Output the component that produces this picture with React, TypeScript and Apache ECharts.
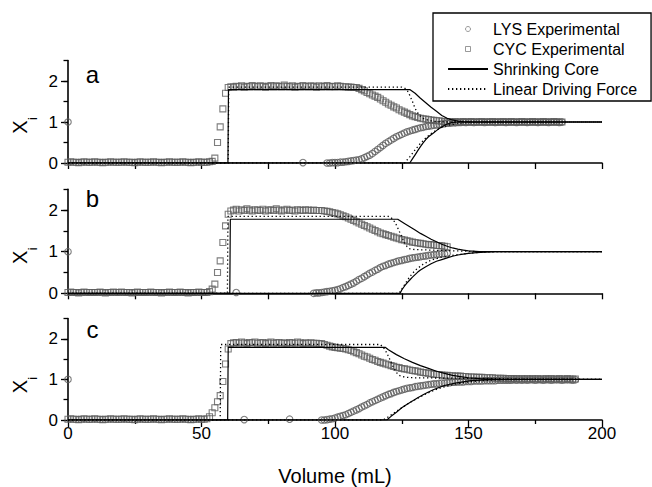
import React, { useEffect, useRef } from "react";
import * as echarts from "echarts";

const _ = null;

// Volume grid (mL) for the experimental readings
const volume = [
  0, 1, 2, 3, 4, 5, 6, 7, 8, 9, 10, 11, 12, 13, 14, 15, 16, 17, 18, 19,
  20, 21, 22, 23, 24, 25, 26, 27, 28, 29, 30, 31, 32, 33, 34, 35, 36, 37, 38, 39,
  40, 41, 42, 43, 44, 45, 46, 47, 48, 49, 50, 51, 52, 53, 54, 55, 56, 57, 58, 59,
  60, 61, 62, 63, 64, 65, 66, 67, 68, 69, 70, 71, 72, 73, 74, 75, 76, 77, 78, 79,
  80, 81, 82, 83, 84, 85, 86, 87, 88, 89, 90, 91, 92, 93, 94, 95, 96, 97, 98, 99,
  100, 101, 102, 103, 104, 105, 106, 107, 108, 109, 110, 111, 112, 113, 114, 115, 116, 117, 118, 119,
  120, 121, 122, 123, 124, 125, 126, 127, 128, 129, 130, 131, 132, 133, 134, 135, 136, 137, 138, 139,
  140, 141, 142, 143, 144, 145, 146, 147, 148, 149, 150, 151, 152, 153, 154, 155, 156, 157, 158, 159,
  160, 161, 162, 163, 164, 165, 166, 167, 168, 169, 170, 171, 172, 173, 174, 175, 176, 177, 178, 179,
  180, 181, 182, 183, 184, 185, 186, 187, 188, 189, 190,
];

// ---- Panel a ----
const cycA = [
  0.02, 0.03, 0.02, 0.02, 0.01, 0.02, 0.03, 0.02, 0.02, 0.02,
  0.03, 0.02, 0.02, 0.01, 0.02, 0.02, 0.03, 0.02, 0.02, 0.02,
  0.02, 0.03, 0.02, 0.02, 0.02, 0.01, 0.02, 0.03, 0.02, 0.02,
  0.02, 0.02, 0.03, 0.02, 0.02, 0.01, 0.02, 0.02, 0.03, 0.02,
  0.02, 0.02, 0.02, 0.03, 0.02, 0.02, 0.01, 0.02, 0.02, 0.03,
  0.02, 0.02, 0.02, 0.03, 0.04, 0.12, 0.5, 0.88, 1.32, 1.7,
  1.84, 1.86, 1.85, 1.87, 1.86, 1.88, 1.85, 1.87, 1.86, 1.89,
  1.87, 1.86, 1.88, 1.87, 1.85, 1.87, 1.89, 1.86, 1.88, 1.87,
  1.86, 1.9, 1.87, 1.86, 1.88, 1.85, 1.87, 1.86, 1.89, 1.87,
  1.86, 1.88, 1.87, 1.85, 1.88, 1.86, 1.87, 1.89, 1.86, 1.87,
  1.86, 1.88, 1.87, 1.86, 1.86, 1.85, 1.85, 1.84, 1.84, 1.82,
  1.79, 1.76, 1.72, 1.69, 1.66, 1.63, 1.6, 1.56, 1.52, 1.48,
  1.44, 1.41, 1.37, 1.34, 1.3, 1.27, 1.24, 1.21, 1.18, 1.15,
  1.13, 1.11, 1.09, 1.08, 1.07, 1.06, 1.05, 1.04, 1.03, 1.03,
  1.02, 1.01, 1.01, 1.01, 1.0, 1.01, 1.0, 1.0, 1.01, 1.0,
  1.0, 1.01, 1.0, 1.0, 1.0, 1.01, 1.0, 1.0, 1.0, 1.01,
  1.0, 1.0, 1.0, 1.01, 1.0, 1.0, 1.01, 1.0, 1.0, 1.0,
  1.01, 1.0, 1.0, 1.0, 1.01, 1.0, 1.0, 1.0, 1.01, 1.0,
  1.0, 1.0, 1.01, 1.0, 1.0, 1.0,
];
const lysA = [
  1.0, _, _, _, _, _, _, _, _, _,
  _, _, _, _, _, _, _, _, _, _,
  _, _, _, _, _, _, _, _, _, _,
  _, _, _, _, _, _, _, _, _, _,
  _, _, _, _, _, _, _, _, _, _,
  _, _, _, _, _, _, _, _, _, _,
  _, _, _, _, _, _, _, _, _, _,
  _, _, _, _, _, _, _, _, _, _,
  _, _, _, _, _, _, _, _, 0.01, _,
  _, _, _, _, _, _, _, 0.0, 0.0, 0.01,
  0.01, 0.01, 0.02, 0.02, 0.03, 0.04, 0.05, 0.06, 0.07, 0.08,
  0.1, 0.13, 0.16, 0.19, 0.23, 0.28, 0.33, 0.38, 0.43, 0.48,
  0.52, 0.56, 0.6, 0.64, 0.67, 0.7, 0.73, 0.76, 0.78, 0.8,
  0.82, 0.84, 0.86, 0.87, 0.89, 0.9, 0.91, 0.92, 0.93, 0.94,
  0.95, 0.96, 0.97, 0.97, 0.98, 0.98, 0.99, 0.99, 1.0, 0.99,
  1.0, 1.0, 0.99, 1.0, 1.0, 1.0, 0.99, 1.0, 1.0, 1.0,
  0.99, 1.0, 1.0, 1.0, 0.99, 1.0, 1.0, 1.0, 0.99, 1.0,
  1.0, 1.0, 0.99, 1.0, 1.0, 1.0, 0.99, 1.0, 1.0, 1.0,
  0.99, 1.0, 1.0, 1.0, 0.99, 1.0,
];
const scAUp = [[0, 0], [59.9, 0], [60.1, 1.79], [128, 1.79], [130, 1.7], [132, 1.58], [134, 1.47], [136, 1.36], [138, 1.26], [140, 1.16], [142, 1.09], [144, 1.05], [146, 1.02], [148, 1.01], [152, 1], [200, 1]];
const scALow = [[0, 0], [128, 0], [129, 0.1], [130, 0.2], [131, 0.3], [132, 0.4], [133, 0.49], [134, 0.57], [135, 0.64], [136, 0.69], [137, 0.74], [138, 0.79], [139, 0.84], [140, 0.88], [141, 0.92], [142, 0.95], [143, 0.97], [144, 0.99], [146, 1], [200, 1]];
const ldfAUp = [[0, 0], [60, 0], [60.2, 1.85], [125, 1.85], [126, 1.83], [127, 1.78], [128, 1.65], [129, 1.5], [130, 1.33], [131, 1.22], [132, 1.14], [133, 1.09], [134, 1.06], [136, 1.03], [138, 1.01], [142, 1], [200, 1]];
const ldfALow = [[0, 0], [126, 0], [128, 0.15], [130, 0.32], [132, 0.48], [134, 0.61], [136, 0.72], [138, 0.8], [140, 0.87], [143, 0.93], [146, 0.97], [150, 0.99], [155, 1], [200, 1]];

// ---- Panel b ----
const cycB = [
  0.02, 0.03, 0.02, 0.02, 0.01, 0.02, 0.03, 0.02, 0.02, 0.02,
  0.02, 0.02, 0.03, 0.02, 0.01, 0.02, 0.02, 0.03, 0.02, 0.02,
  0.03, 0.02, 0.02, 0.02, 0.01, 0.02, 0.03, 0.02, 0.02, 0.02,
  0.02, 0.03, 0.02, 0.02, 0.02, 0.01, 0.02, 0.02, 0.03, 0.02,
  0.02, 0.02, 0.03, 0.02, 0.02, 0.01, 0.02, 0.02, 0.02, 0.03,
  0.02, 0.02, 0.02, 0.04, 0.1, 0.22, 0.5, 0.78, 1.22, 1.62,
  1.9, 1.98, 2.0, 2.02, 1.98, 2.01, 1.99, 2.03, 2.0, 1.98,
  2.01, 2.0, 1.99, 2.02, 1.98, 2.0, 2.01, 1.99, 2.03, 2.0,
  1.98, 2.0, 2.02, 1.99, 2.0, 1.98, 2.01, 2.0, 1.99, 2.01,
  2.0, 1.99, 2.0, 1.99, 1.99, 1.99, 1.98, 1.97, 1.96, 1.94,
  1.93, 1.91, 1.89, 1.86, 1.84, 1.81, 1.78, 1.75, 1.72, 1.69,
  1.66, 1.63, 1.6, 1.57, 1.54, 1.51, 1.48, 1.45, 1.43, 1.41,
  1.39, 1.37, 1.35, 1.33, 1.31, 1.29, 1.28, 1.26, 1.25, 1.23,
  1.22, 1.21, 1.2, 1.19, 1.18, 1.17, 1.17, 1.16, 1.15, 1.15,
  1.14, 1.13, 1.12,
];
const lysB = [
  1.0, _, _, _, _, _, _, _, _, _,
  _, _, _, _, _, _, _, _, _, _,
  _, _, _, _, _, _, _, _, _, _,
  _, _, _, _, _, _, _, _, _, _,
  _, _, _, _, _, _, _, _, _, _,
  _, _, _, _, _, _, _, _, _, _,
  _, _, _, 0.02, _, _, _, _, _, _,
  _, _, _, _, _, _, _, _, _, _,
  _, _, _, _, _, _, _, _, _, _,
  _, _, 0.0, 0.01, 0.01, 0.02, 0.03, 0.04, 0.05, 0.06,
  0.07, 0.09, 0.11, 0.14, 0.16, 0.19, 0.22, 0.25, 0.29, 0.33,
  0.36, 0.4, 0.44, 0.48, 0.51, 0.55, 0.58, 0.62, 0.65, 0.67,
  0.7, 0.72, 0.74, 0.76, 0.78, 0.79, 0.81, 0.82, 0.84, 0.85,
  0.86, 0.87, 0.88, 0.89, 0.9, 0.91, 0.92, 0.93, 0.93, 0.94,
  0.95, 0.95, 0.96,
];
const scBUp = [[0, 0], [60.6, 0], [60.8, 1.78], [123.5, 1.78], [126, 1.68], [128, 1.6], [130, 1.52], [132, 1.44], [134, 1.37], [136, 1.3], [138, 1.24], [140, 1.18], [142, 1.13], [144, 1.09], [146, 1.06], [148, 1.04], [150, 1.02], [154, 1], [200, 1]];
const scBLow = [[0, 0], [124.4, 0], [125, 0.08], [126, 0.17], [127, 0.25], [128, 0.32], [129, 0.39], [130, 0.45], [131, 0.51], [132, 0.56], [134, 0.64], [136, 0.71], [138, 0.77], [140, 0.81], [142, 0.85], [144, 0.89], [146, 0.92], [148, 0.94], [150, 0.96], [153, 0.98], [156, 0.99], [160, 1], [200, 1]];
const ldfBUp = [[0, 0], [59.7, 0], [59.9, 1.85], [120, 1.85], [121, 1.82], [122, 1.75], [123, 1.64], [124, 1.5], [125, 1.36], [126, 1.22], [127, 1.12], [128, 1.07], [130, 1.05], [135, 1.04], [145, 1.02], [155, 1], [200, 1]];
const ldfBLow = [[0, 0], [124, 0], [126, 0.2], [128, 0.4], [130, 0.55], [133, 0.7], [136, 0.8], [140, 0.87], [145, 0.92], [150, 0.96], [155, 0.99], [160, 1], [200, 1]];

// ---- Panel c ----
const cycC = [
  0.02, 0.03, 0.02, 0.02, 0.01, 0.02, 0.03, 0.02, 0.02, 0.02,
  0.03, 0.02, 0.02, 0.01, 0.02, 0.02, 0.03, 0.02, 0.02, 0.02,
  0.02, 0.03, 0.02, 0.02, 0.02, 0.01, 0.02, 0.03, 0.02, 0.02,
  0.02, 0.02, 0.03, 0.02, 0.02, 0.01, 0.02, 0.02, 0.03, 0.02,
  0.02, 0.02, 0.02, 0.03, 0.02, 0.02, 0.01, 0.02, 0.02, 0.03,
  0.02, 0.02, 0.03, 0.08, 0.18, 0.3, 0.45, 0.6, 0.95, 1.38,
  1.75, 1.88, 1.9, 1.91, 1.89, 1.92, 1.9, 1.88, 1.91, 1.9,
  1.92, 1.89, 1.9, 1.91, 1.88, 1.9, 1.92, 1.89, 1.9, 1.91,
  1.89, 1.9, 1.88, 1.91, 1.9, 1.89, 1.92, 1.9, 1.88, 1.9,
  1.89, 1.9, 1.89, 1.89, 1.88, 1.88, 1.86, 1.84, 1.82, 1.8,
  1.79, 1.78, 1.77, 1.76, 1.75, 1.73, 1.71, 1.68, 1.66, 1.63,
  1.6, 1.57, 1.55, 1.52, 1.49, 1.47, 1.44, 1.42, 1.4, 1.38,
  1.36, 1.34, 1.32, 1.3, 1.29, 1.27, 1.26, 1.25, 1.23, 1.22,
  1.21, 1.2, 1.18, 1.17, 1.16, 1.15, 1.14, 1.13, 1.12, 1.12,
  1.11, 1.1, 1.1, 1.09, 1.09, 1.08, 1.08, 1.08, 1.07, 1.07,
  1.06, 1.06, 1.06, 1.05, 1.05, 1.05, 1.04, 1.04, 1.04, 1.04,
  1.03, 1.03, 1.03, 1.03, 1.02, 1.02, 1.02, 1.02, 1.02, 1.01,
  1.02, 1.01, 1.02, 1.01, 1.02, 1.01, 1.02, 1.01, 1.01, 1.02,
  1.01, 1.02, 1.01, 1.01, 1.02, 1.01, 1.01, 1.02, 1.01, 1.01,
  1.01,
];
const lysC = [
  1.0, _, _, _, _, _, _, _, _, _,
  _, _, _, _, _, _, _, _, _, _,
  _, _, _, _, _, _, _, _, _, _,
  _, _, _, _, _, _, _, _, _, _,
  _, _, _, _, _, _, _, _, _, _,
  _, _, _, _, _, _, _, _, _, _,
  _, _, _, _, _, _, 0.01, _, _, _,
  _, _, _, _, _, _, _, _, _, _,
  _, _, _, 0.02, _, _, _, _, _, _,
  _, _, _, _, _, 0.0, 0.0, 0.01, 0.02, 0.03,
  0.05, 0.07, 0.09, 0.11, 0.13, 0.16, 0.19, 0.22, 0.25, 0.28,
  0.32, 0.35, 0.38, 0.42, 0.45, 0.48, 0.51, 0.54, 0.57, 0.6,
  0.63, 0.65, 0.68, 0.7, 0.72, 0.74, 0.76, 0.78, 0.79, 0.8,
  0.82, 0.83, 0.84, 0.85, 0.86, 0.87, 0.88, 0.89, 0.89, 0.9,
  0.91, 0.91, 0.92, 0.92, 0.93, 0.93, 0.94, 0.94, 0.94, 0.95,
  0.95, 0.95, 0.96, 0.96, 0.96, 0.96, 0.97, 0.97, 0.97, 0.97,
  0.97, 0.98, 0.98, 0.98, 0.98, 0.98, 0.98, 0.99, 0.98, 0.99,
  0.98, 0.99, 0.98, 0.99, 0.99, 0.98, 0.99, 0.99, 0.98, 0.99,
  0.99, 0.98, 0.99, 0.99, 0.99, 0.98, 0.99, 0.99, 0.99, 0.98,
  0.99,
];
const scCUp = [[0, 0], [59.8, 0], [60, 1.79], [118.8, 1.79], [120, 1.73], [123, 1.61], [126, 1.51], [129, 1.42], [132, 1.34], [135, 1.27], [138, 1.2], [141, 1.15], [144, 1.1], [147, 1.07], [150, 1.04], [154, 1.02], [160, 1], [200, 1]];
const scCLow = [[0, 0], [119.4, 0], [121, 0.09], [123, 0.19], [125, 0.3], [127, 0.39], [129, 0.47], [131, 0.55], [133, 0.62], [135, 0.69], [137, 0.75], [139, 0.8], [141, 0.85], [143, 0.88], [145, 0.91], [148, 0.94], [151, 0.97], [154, 0.98], [158, 1], [200, 1]];
const ldfCUp = [[0, 0], [57, 0], [57.2, 1.86], [116.9, 1.86], [118, 1.8], [119, 1.7], [120, 1.57], [121, 1.42], [122, 1.28], [123, 1.17], [124, 1.1], [125, 1.07], [127, 1.05], [130, 1.04], [160, 1.02], [170, 1], [200, 1]];
const ldfCLow = [[0, 0], [118, 0], [120, 0.08], [122, 0.17], [125, 0.3], [128, 0.43], [131, 0.54], [134, 0.64], [137, 0.73], [140, 0.8], [144, 0.87], [148, 0.92], [153, 0.96], [160, 0.99], [170, 1], [200, 1]];

const panelLabels = ["a", "b", "c"];
const legendNames = ["LYS Experimental", "CYC Experimental", "Shrinking Core", "Linear Driving Force"];
const xTickValues = [0, 50, 100, 150, 200];
const yMajorTicks = [0, 1, 2];

const panels = [
  { cyc: cycA, lys: lysA, scUp: scAUp, scLow: scALow, ldfUp: ldfAUp, ldfLow: ldfALow },
  { cyc: cycB, lys: lysB, scUp: scBUp, scLow: scBLow, ldfUp: ldfBUp, ldfLow: ldfBLow },
  { cyc: cycC, lys: lysC, scUp: scCUp, scLow: scCLow, ldfUp: ldfCUp, ldfLow: ldfCLow },
];

// layout (pixels)
const gridTops = [60.5, 189.3, 318.5];
const gridHeights = [102.5, 104, 104.2];
const FONT = '"Liberation Sans", Arial, Helvetica, sans-serif';

function toPairs(vals: (number | null)[]) {
  const out: number[][] = [];
  vals.forEach((y, i) => {
    if (y !== null && y !== undefined) out.push([volume[i], y]);
  });
  return out;
}

export default function App() {
  const ref = useRef<HTMLDivElement>(null);

  useEffect(() => {
    if (!ref.current) return;
    const chart = echarts.init(ref.current, undefined, { renderer: "svg" });

    const grids: any[] = [];
    const xAxes: any[] = [];
    const yAxes: any[] = [];
    const series: any[] = [];
    const graphics: any[] = [];

    const axisLineStyle = { color: "#000", width: 1.6 };
    const tickLineStyle = { color: "#000", width: 1.3 };
    const symStyle = { color: "rgba(255,255,255,0)", borderColor: "#5c5c5c", borderWidth: 1.1 };

    panels.forEach((p, k) => {
      grids.push({ left: 68, right: 50, top: gridTops[k], height: gridHeights[k], containLabel: false });
      const last = k === 2;
      xAxes.push({
        gridIndex: k,
        type: "value",
        min: 0,
        max: 200,
        interval: last ? 50 : 25,
        axisLine: { show: true, lineStyle: axisLineStyle },
        axisTick: { show: true, length: last ? 7 : 6, lineStyle: tickLineStyle },
        minorTick: last ? { show: true, splitNumber: 2, length: 4, lineStyle: tickLineStyle } : { show: false },
        axisLabel: last
          ? { show: true, fontSize: 17, color: "#000", margin: 5, fontFamily: FONT, customValues: xTickValues }
          : { show: false },
        splitLine: { show: false },
        minorSplitLine: { show: false },
        name: last ? "Volume (mL)" : "",
        nameLocation: "middle",
        nameGap: 46,
        nameTextStyle: { fontSize: 20, color: "#000", fontFamily: FONT },
      });
      yAxes.push({
        gridIndex: k,
        type: "value",
        min: 0,
        max: 2.5,
        interval: 0.5,
        axisLine: { show: true, lineStyle: axisLineStyle },
        axisTick: { show: true, length: 4.5, lineStyle: tickLineStyle },
        axisLabel: {
          show: true,
          fontSize: 17,
          color: "#000",
          margin: 10,
          fontFamily: FONT,
          formatter: (v: number) => (Math.abs(v - Math.round(v)) < 1e-9 ? String(Math.round(v)) : ""),
        },
        splitLine: { show: false },
      });
      yAxes.push({
        gridIndex: k,
        type: "value",
        min: 0,
        max: 2.5,
        position: "left",
        axisLine: { show: false },
        axisTick: { show: true, length: 7, lineStyle: tickLineStyle, customValues: yMajorTicks },
        axisLabel: { show: false },
        splitLine: { show: false },
      });

      const yi = k * 2;
      series.push({
        name: "LYS Experimental",
        type: "scatter",
        xAxisIndex: k,
        yAxisIndex: yi,
        symbol: "circle",
        symbolSize: 6.5,
        itemStyle: symStyle,
        z: 2,
        data: toPairs(p.lys),
      });
      series.push({
        name: "CYC Experimental",
        type: "scatter",
        xAxisIndex: k,
        yAxisIndex: yi,
        symbol: "rect",
        symbolSize: 6,
        itemStyle: symStyle,
        z: 2,
        data: toPairs(p.cyc),
      });
      [p.scUp, p.scLow].forEach((d) =>
        series.push({
          name: "Shrinking Core",
          type: "line",
          xAxisIndex: k,
          yAxisIndex: yi,
          symbol: "none",
          showSymbol: false,
          lineStyle: { color: "#000", width: 1.2 },
          itemStyle: { color: "#000" },
          z: 3,
          data: d,
        })
      );
      [p.ldfUp, p.ldfLow].forEach((d) =>
        series.push({
          name: "Linear Driving Force",
          type: "line",
          xAxisIndex: k,
          yAxisIndex: yi,
          symbol: "none",
          showSymbol: false,
          lineStyle: { color: "#000", width: 1.3, type: [1.3, 2.7] },
          itemStyle: { color: "#000" },
          z: 3,
          data: d,
        })
      );

      const base = gridTops[k] + gridHeights[k];
      graphics.push({
        type: "text",
        x: 92.5,
        y: gridTops[k] + [14.2, 9.2, 10.5][k],
        style: { text: panelLabels[k], fontSize: 24, fontFamily: FONT, fill: "#000", align: "center", verticalAlign: "middle" },
        z: 10,
      });
      graphics.push({
        type: "text",
        x: 20,
        y: base - 36,
        rotation: Math.PI / 2,
        style: { text: "X", fontSize: 20, fontFamily: FONT, fill: "#000", align: "center", verticalAlign: "middle" },
        z: 10,
      });
      graphics.push({
        type: "text",
        x: 32.5,
        y: base - 44.5,
        rotation: Math.PI / 2,
        style: { text: "i", fontSize: 13, fontFamily: FONT, fill: "#000", align: "center", verticalAlign: "middle" },
        z: 10,
      });
    });

    const hiddenSymbol = { color: "rgba(0,0,0,0)", borderWidth: 0, opacity: 0 };
    const openSymbol = { color: "rgba(255,255,255,0)", borderColor: "#808080", borderWidth: 1 };

    chart.setOption({
      animation: false,
      backgroundColor: "#fff",
      textStyle: { fontFamily: FONT },
      legend: {
        data: [
          { name: legendNames[0], icon: "circle", itemStyle: openSymbol },
          { name: legendNames[1], icon: "path://M0 0H10V10H0Z", itemStyle: openSymbol },
          { name: legendNames[2], itemStyle: hiddenSymbol },
          { name: legendNames[3], itemStyle: hiddenSymbol },
        ],
        orient: "vertical",
        left: 433,
        top: 13,
        itemWidth: 40,
        itemHeight: 5,
        itemGap: 0,
        symbolKeepAspect: true,
        selectedMode: false,
        padding: [6, 14, 2, 14],
        borderColor: "#000",
        borderWidth: 1.3,
        backgroundColor: "#fff",
        textStyle: { fontSize: 16, lineHeight: 20, color: "#000", fontFamily: FONT },
        z: 20,
      },
      grid: grids,
      xAxis: xAxes,
      yAxis: yAxes,
      series,
      graphic: graphics,
    });

    return () => chart.dispose();
  }, []);

  return (
    <div
      ref={ref}
      style={{ position: "absolute", left: 0, top: 0, width: 652, height: 487 }}
    />
  );
}
